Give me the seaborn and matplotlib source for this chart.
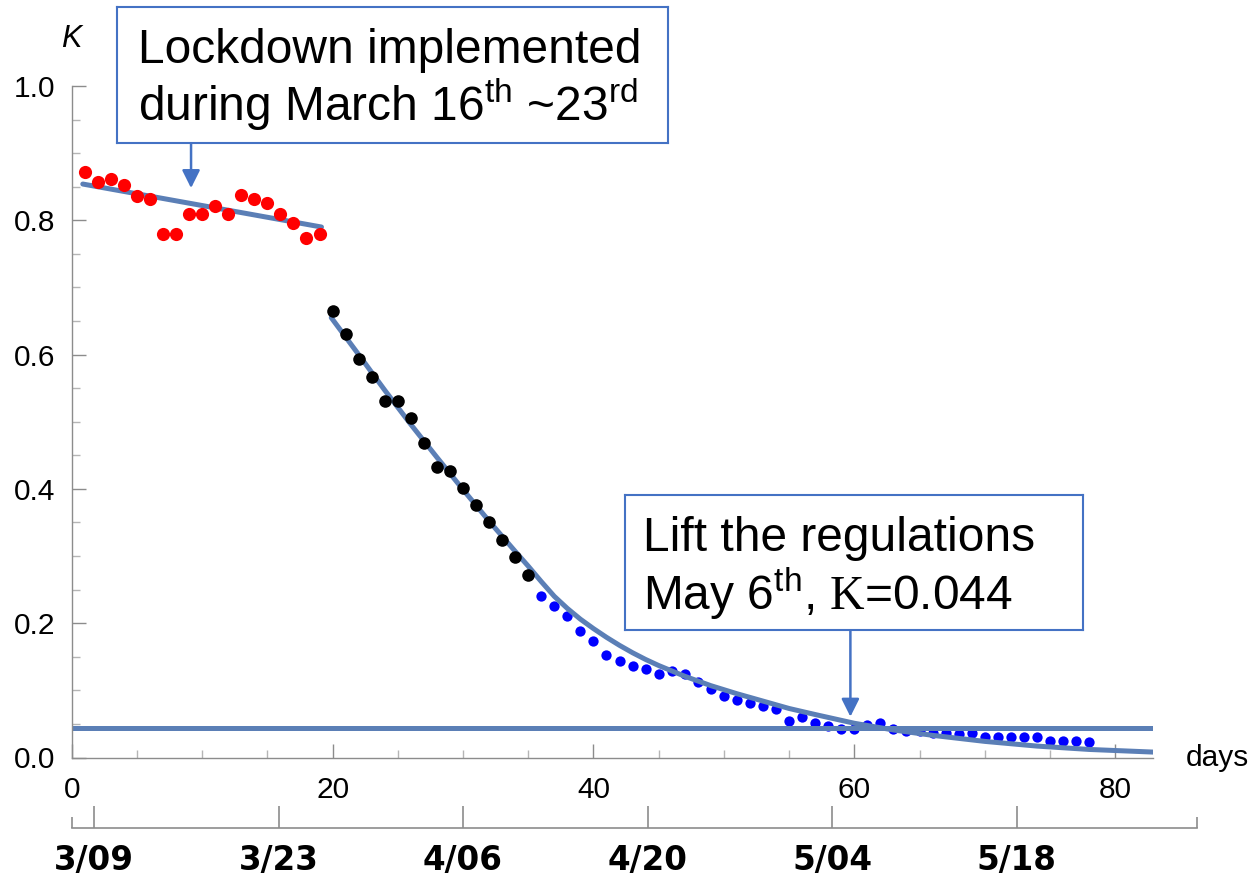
import numpy as np
import pandas as pd
import matplotlib
matplotlib.use("Agg")
import matplotlib.pyplot as plt
import seaborn as sns

# Observed K values by day
red_days = list(range(1, 20))
red_K = [0.872, 0.857, 0.861, 0.852, 0.836, 0.831, 0.780, 0.780, 0.810, 0.810,
         0.821, 0.810, 0.837, 0.831, 0.826, 0.810, 0.796, 0.774, 0.780]

black_days = list(range(20, 36))
black_K = [0.665, 0.630, 0.593, 0.566, 0.531, 0.531, 0.505, 0.469, 0.433, 0.427,
           0.401, 0.376, 0.350, 0.324, 0.298, 0.272]

blue_days = list(range(36, 79))
blue_K = [0.240, 0.226, 0.210, 0.189, 0.174, 0.153, 0.143, 0.137, 0.132, 0.125,
          0.129, 0.124, 0.113, 0.102, 0.092, 0.086, 0.081, 0.077, 0.072, 0.055,
          0.061, 0.051, 0.047, 0.042, 0.042, 0.048, 0.052, 0.043, 0.040, 0.039,
          0.037, 0.036, 0.035, 0.036, 0.030, 0.030, 0.030, 0.030, 0.030, 0.025,
          0.025, 0.025, 0.0235]

# Fitted trends
early_fit_days = [0.85, 19.15]
early_fit_K = [0.854, 0.790]

decay_fit_days = [19.9, 22, 24, 26, 28, 30, 32, 34, 35, 36, 37, 38, 39, 40, 41,
                  42, 43, 44, 45, 47, 49, 51, 53, 55, 57, 60, 63, 66, 70, 74, 78, 83]
decay_fit_K = [0.655, 0.600, 0.547, 0.496, 0.447, 0.399, 0.352, 0.307, 0.285, 0.262,
               0.240, 0.222, 0.206, 0.192, 0.179, 0.167, 0.156, 0.146, 0.137, 0.121,
               0.107, 0.095, 0.084, 0.073, 0.064, 0.051, 0.041, 0.033, 0.024, 0.017,
               0.012, 0.008]

threshold_K = 0.044

date_labels = ["3/09", "3/23", "4/06", "4/20", "5/04", "5/18"]
date_offsets = [0, 14, 28, 42, 56, 70]   # days after 3/09

sns.set_theme(style="white")
plt.rcParams["font.family"] = ["Liberation Sans", "DejaVu Sans"]
plt.rcParams["text.color"] = "black"
plt.rcParams["mathtext.fontset"] = "custom"
plt.rcParams["mathtext.rm"] = "Liberation Sans"
plt.rcParams["mathtext.it"] = "Liberation Sans:italic"
plt.rcParams["mathtext.cal"] = "Liberation Serif"

W, H = 1257, 881
fig = plt.figure(figsize=(W / 100, H / 100), dpi=100)

def frac(x0, y0, x1, y1):
    return [x0 / W, 1 - y1 / H, (x1 - x0) / W, (y1 - y0) / H]

ax = fig.add_axes(frac(71.7, 86, 1153, 757.5))
ax.set_xlim(0, 82.9)
ax.set_ylim(0, 1.0)

fit_color = "#5B7FB6"
box_color = "#4472C4"
axis_gray = "#8C8C8C"

# Blue observations sit beneath the fitted curves
sns.scatterplot(x=blue_days, y=blue_K, color="#0000FF", s=55, linewidth=0,
                ax=ax, zorder=1, legend=False)
ax.axhline(threshold_K, color=fit_color, lw=3.6, zorder=2)
sns.lineplot(x=early_fit_days, y=early_fit_K, color=fit_color, lw=3.6,
             ax=ax, zorder=2, estimator=None, sort=False)
sns.lineplot(x=decay_fit_days, y=decay_fit_K, color=fit_color, lw=3.6,
             ax=ax, zorder=2, estimator=None, sort=False)
sns.scatterplot(x=black_days, y=black_K, color="#000000", s=82, linewidth=0,
                ax=ax, zorder=3, legend=False)
sns.scatterplot(x=red_days, y=red_K, color="#FF0000", s=90, linewidth=0,
                ax=ax, zorder=3, legend=False)

# Axes styled as crossing lines at the origin
for side in ["top", "right"]:
    ax.spines[side].set_visible(False)
for side in ["left", "bottom"]:
    ax.spines[side].set_color(axis_gray)
    ax.spines[side].set_linewidth(1.0)
ax.set_xticks([0, 20, 40, 60, 80])
ax.set_xticks(np.arange(0, 83, 5), minor=True)
ax.set_yticks([0.0, 0.2, 0.4, 0.6, 0.8, 1.0])
ax.set_yticks(np.arange(0, 1.001, 0.05), minor=True)
ax.set_yticklabels(["0.0", "0.2", "0.4", "0.6", "0.8", "1.0"])
ax.tick_params(axis="both", which="both", bottom=True, left=True)
ax.tick_params(axis="both", which="major", direction="in", length=10, width=1,
               color=axis_gray, labelsize=21.5, labelcolor="black")
ax.tick_params(axis="both", which="minor", direction="in", length=6, width=1,
               color="#B5B5B5")
ax.tick_params(axis="x", which="major", pad=13)
ax.tick_params(axis="y", which="major", pad=12)
ax.set_xlabel("")
ax.set_ylabel("")
ax.set_facecolor("none")

ax.text(0, 1.07, "K", transform=ax.get_xaxis_transform(), ha="center",
        va="center", fontsize=22, style="italic", clip_on=False)
ax.text(1.03, 0.0, "days", transform=ax.transAxes, ha="left", va="center",
        fontsize=21.5, clip_on=False)

# Annotations
ax.annotate("", xy=(9.15, 0.848), xytext=(9.15, 0.9213),
            arrowprops=dict(arrowstyle="-|>,head_length=0.9,head_width=0.45",
                            color=box_color, lw=1.8, shrinkA=0, shrinkB=0))
ax.annotate("", xy=(59.7, 0.0608), xytext=(59.7, 0.1892),
            arrowprops=dict(arrowstyle="-|>,head_length=0.9,head_width=0.45",
                            color=box_color, lw=1.8, shrinkA=0, shrinkB=0))

box1 = fig.add_axes(frac(117, 7, 668, 143))
box2 = fig.add_axes(frac(625, 495, 1083, 630))
for b in (box1, box2):
    b.set_xticks([])
    b.set_yticks([])
    b.set_facecolor("white")
    for s in b.spines.values():
        s.set_color(box_color)
        s.set_linewidth(1.5)
        s.set_visible(True)
box1.text(0.038, 0.68, "Lockdown implemented", fontsize=34.5, va="center",
          ha="left", transform=box1.transAxes)
box1.text(0.038, 0.28, r"during March 16$^{\mathrm{th}}$ ~23$^{\mathrm{rd}}$",
          fontsize=34.5, va="center", ha="left", transform=box1.transAxes)
box2.text(0.04, 0.68, "Lift the regulations", fontsize=34.5, va="center",
          ha="left", transform=box2.transAxes)
box2.text(0.04, 0.27, r"May 6$^{\mathrm{th}}$, $\mathcal{K}$=0.044",
          fontsize=34.5, va="center", ha="left", transform=box2.transAxes)

# Calendar axis beneath the day axis
dax = fig.add_axes(frac(71.7, 780, 1196.7, 827.7))
dax.set_xlim(-1.69, 83.66)
dax.set_ylim(0, 1)
dax.set_facecolor("none")
for side in ["top", "right", "left"]:
    dax.spines[side].set_visible(False)
dax.spines["bottom"].set_color(axis_gray)
dax.spines["bottom"].set_linewidth(1.2)
dax.set_yticks([])
dax.set_xticks(date_offsets)
dax.set_xticklabels(date_labels, fontfamily="DejaVu Sans", fontweight="bold",
                    fontsize=23.5, color="black")
dax.set_xticks([-1.69, 83.66], minor=True)
dax.tick_params(axis="x", which="both", bottom=True)
dax.tick_params(axis="x", which="major", direction="in", length=16, width=1.2,
                color=axis_gray, pad=12)
dax.tick_params(axis="x", which="minor", direction="in", length=8, width=1.2,
                color=axis_gray)

fig.savefig("out.png", dpi=100)
